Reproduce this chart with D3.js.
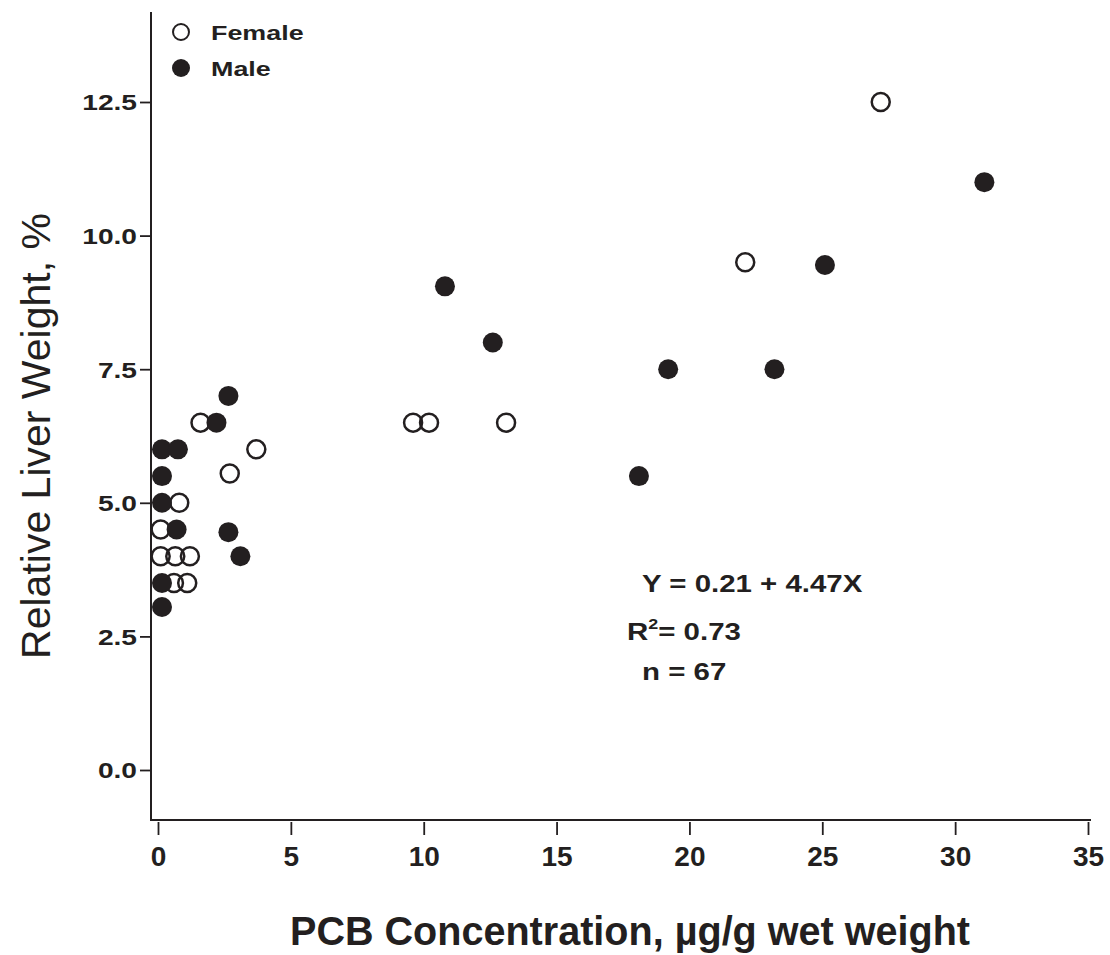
<!DOCTYPE html>
<html>
<head>
<meta charset="utf-8">
<script src="https://cdn.jsdelivr.net/npm/d3@7"></script>
<style>
  body { margin: 0; background: #fff; }
  text { font-family: "Liberation Sans", Arial, sans-serif; fill: #231f20; }
</style>
</head>
<body>
<svg id="chart"></svg>
<script>
// canvas size
var width = 1110,
    height = 955;

// data: PCB concentration (x) vs relative liver weight (y)
var femaleX = [27.2, 22.1, 9.6, 10.2, 13.1, 1.6, 3.7, 2.7, 0.8, 0.1, 0.1, 0.65, 1.2, 0.6, 1.1];
var femaleY = [12.5, 9.5, 6.5, 6.5, 6.5, 6.5, 6.0, 5.55, 5.0, 4.5, 4.0, 4.0, 4.0, 3.5, 3.5];

var maleX = [31.1, 25.1, 10.8, 12.6, 19.2, 23.2, 18.1, 2.65, 2.2, 0.15, 0.75, 0.15, 0.15, 0.7, 2.65, 3.1, 0.15, 0.15];
var maleY = [11.0, 9.45, 9.05, 8.0, 7.5, 7.5, 5.5, 7.0, 6.5, 6.0, 6.0, 5.5, 5.0, 4.5, 4.45, 4.0, 3.5, 3.05];

// axis ticks
var xTicks = [0, 5, 10, 15, 20, 25, 30, 35];
var yTicks = [0, 2.5, 5, 7.5, 10, 12.5];

// legend entries and fit annotation
var legendLabels = ["Female", "Male"];
var fitLines = ["Y = 0.21 + 4.47X", "R", "= 0.73", "n = 67"];

var ink = "#231f20";
var r = 10;
// the scanned lettering is wider than Liberation Sans, stretch it a bit
var wide = 1.28;

var svg = d3.select("#chart")
    .attr("width", width)
    .attr("height", height);

var x = d3.scaleLinear().domain([0, 35]).range([158, 1088]);
var y = d3.scaleLinear().domain([0, 12.5]).range([770, 102]);

// axis lines (drawn separately, they run past the tick range)
svg.append("line")
    .attr("x1", 151).attr("x2", 151)
    .attr("y1", 12).attr("y2", 821)
    .style("stroke", ink).style("stroke-width", 2);
svg.append("line")
    .attr("x1", 150).attr("x2", 1091)
    .attr("y1", 820).attr("y2", 820)
    .style("stroke", ink).style("stroke-width", 2);

// y axis
var yAxis = svg.append("g")
    .attr("transform", "translate(151,0)")
    .call(d3.axisLeft(y).tickValues(yTicks).tickFormat(d3.format(".1f")).tickSize(11));

// x axis
var xAxis = svg.append("g")
    .attr("transform", "translate(0,822)")
    .call(d3.axisBottom(x).tickValues(xTicks).tickSize(13).tickPadding(11));

[xAxis, yAxis].forEach(function(ax) {
  ax.select(".domain").remove();
  ax.selectAll(".tick line").style("stroke", ink).style("stroke-width", 1.8);
  ax.selectAll(".tick text")
    .style("font-family", '"Liberation Sans", Arial, sans-serif')
    .style("font-weight", "bold")
    .style("fill", ink);
});
xAxis.selectAll(".tick text").style("font-size", "28px");
yAxis.selectAll(".tick text")
    .style("font-size", "22px")
    .attr("x", -14 / wide)
    .attr("dy", "0.36em")
    .attr("transform", "scale(" + wide + ",1)");

// axis titles
svg.append("text")
    .attr("x", 630).attr("y", 945)
    .attr("text-anchor", "middle")
    .attr("textLength", 680)
    .attr("lengthAdjust", "spacingAndGlyphs")
    .style("font-size", "41px")
    .style("font-weight", "bold")
    .text("PCB Concentration, µg/g wet weight");

svg.append("text")
    .attr("transform", "translate(50,436) rotate(-90)")
    .attr("text-anchor", "middle")
    .style("font-size", "41px")
    .text("Relative Liver Weight, %");

// females: open circles
svg.selectAll(".female")
    .data(femaleX)
    .enter().append("circle")
      .classed("female", true)
      .attr("cx", function(d) { return x(d); })
      .attr("cy", function(d, i) { return y(femaleY[i]); })
      .attr("r", r - 1)
      .style("fill", "none")
      .style("stroke", ink)
      .style("stroke-width", 2.5);

// males: filled circles
svg.selectAll(".male")
    .data(maleX)
    .enter().append("circle")
      .classed("male", true)
      .attr("cx", function(d) { return x(d); })
      .attr("cy", function(d, i) { return y(maleY[i]); })
      .attr("r", r)
      .style("fill", ink);

// legend
var legend = svg.append("g");
legendLabels.forEach(function(lab, i) {
  var ly = 32 + i * 36;
  legend.append("circle")
    .attr("cx", 181).attr("cy", ly)
    .attr("r", i == 0 ? 8 : 9)
    .style("fill", i == 0 ? "none" : ink)
    .style("stroke", ink)
    .style("stroke-width", i == 0 ? 2 : 0);
  legend.append("text")
    .attr("transform", "translate(211," + (ly + 8) + ") scale(" + wide + ",1)")
    .style("font-size", "21px")
    .style("font-weight", "bold")
    .text(lab);
});

// regression annotation
var ann = svg.append("g")
    .style("font-size", "23px")
    .style("font-weight", "bold");
ann.append("text")
    .attr("transform", "translate(642,592) scale(" + wide + ",1)")
    .text(fitLines[0]);
var r2 = ann.append("text")
    .attr("transform", "translate(627,640) scale(" + wide + ",1)");
r2.append("tspan").text(fitLines[1]);
r2.append("tspan").attr("dy", -11).style("font-size", "14px").text("2");
r2.append("tspan").attr("dy", 11).text(fitLines[2]);
ann.append("text")
    .attr("transform", "translate(642,680) scale(" + wide + ",1)")
    .text(fitLines[3]);
</script>
</body>
</html>
